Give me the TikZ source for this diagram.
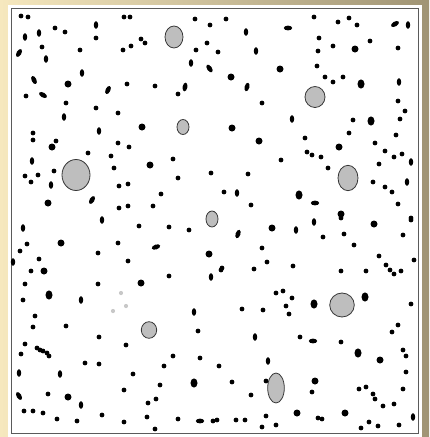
\documentclass[tikz,border=0pt]{standalone}
\usetikzlibrary{calc}
\definecolor{creamc}{RGB}{246,232,190}
\definecolor{goldc}{RGB}{228,196,120}
\definecolor{olivec}{RGB}{160,148,116}
\definecolor{framec}{RGB}{90,90,90}
\definecolor{cellc}{RGB}{190,190,190}
\definecolor{celledge}{RGB}{55,55,55}
\definecolor{faintc}{RGB}{200,200,200}
\tikzset{
  dotc/.style={fill=black},
  gcell/.style={fill=cellc,draw=celledge,line width=0.8pt},
  faint/.style={fill=faintc}
}
\newcommand\Sd[2]{\fill[dotc] (#1,#2) circle[radius=2.4];}
\newcommand\Bd[2]{\fill[dotc] (#1,#2) circle[radius=3.5];}
\newcommand\Vd[2]{\fill[dotc] (#1,#2) ellipse[x radius=2.2,y radius=3.8];}
\newcommand\Wd[2]{\fill[dotc] (#1,#2) ellipse[x radius=3.5,y radius=4.6];}
\newcommand\Hd[2]{\fill[dotc] (#1,#2) ellipse[x radius=4.2,y radius=2.4];}
\newcommand\Dd[3]{\fill[dotc,rotate around={#3:(#1,#2)}] (#1,#2) ellipse[x radius=4.4,y radius=2.4];}
\newcommand\Gd[4]{\filldraw[gcell] (#1,#2) ellipse[x radius=#3,y radius=#4];}
\newcommand\Fd[2]{\fill[faint] (#1,#2) circle[radius=2.1];}
\begin{document}
\begin{tikzpicture}[x=1pt,y=-1pt]
\useasboundingbox (0,0) rectangle (429,437);
% background frame
\shade[left color=creamc,middle color=goldc,right color=olivec] (0,0) rectangle (429,437);
\fill[white] (8,5) rectangle (422,437);
\draw[framec,line width=1.5pt] (11.5,8.5) rectangle (418.5,433.5);
% ---------- top-left ----------
\Sd{21}{16}\Sd{28}{17}\Vd{25}{37}\Vd{39}{33}\Sd{55}{28}\Sd{65}{32}
\Vd{96}{25}\Sd{96}{38}\Sd{124}{17}\Sd{130}{17}\Dd{19}{53}{60}
\Sd{42}{47}\Vd{46}{59}\Sd{80}{50}\Sd{123}{50}\Sd{131}{46}\Sd{141}{39}\Sd{145}{43}
\Sd{195}{19}\Sd{210}{25}\Sd{207}{43}\Sd{196}{50}\Vd{191}{63}\Dd{209.5}{68.5}{-55}
\Dd{34}{80}{-65}\Dd{43}{95}{-30}\Sd{26}{96}\Bd{68}{84}\Vd{82}{73}\Dd{108}{90}{65}
\Sd{127}{84}\Sd{155}{86}\Dd{185}{87}{80}\Sd{178}{94}\Sd{66}{103}\Vd{64}{117}
\Sd{96}{108}\Sd{118}{113}\Vd{99}{131}\Bd{142}{127}
\Sd{33}{133}\Sd{33}{140}\Bd{52}{147}\Sd{56}{141}\Sd{118}{143}\Sd{129}{147}
\Sd{88}{153}\Sd{111}{156}\Vd{32}{161}\Sd{114}{168}\Bd{150}{165}\Sd{173}{159}
\Sd{211}{173}\Sd{178}{178}\Sd{25}{176}\Sd{31}{182}\Sd{38}{175}\Sd{54}{171}
\Vd{51}{185}\Sd{119}{186}\Sd{128}{184}\Sd{161}{194}\Bd{48}{203}\Dd{92}{200}{60}
\Sd{119}{208}\Sd{128}{206}\Sd{153}{206}\Vd{102}{220}
% ---------- top-right ----------
\Sd{226}{19}\Vd{246}{32}\Hd{288}{28}\Sd{314}{17}\Sd{338}{22}\Sd{349}{18}\Sd{357}{25}
\Sd{370}{41}\Dd{395}{24}{30}\Vd{408}{25}\Sd{218}{52}\Vd{256}{51}\Sd{319}{38}
\Sd{318}{51}\Sd{333}{46}\Bd{355}{49}\Sd{398}{48}\Bd{280}{69}\Sd{317}{66}
\Bd{231}{77}\Dd{247}{87}{75}\Sd{325}{77}\Sd{333}{82}\Sd{343}{77}\Wd{361}{84}
\Vd{399}{82}\Sd{262}{103}\Sd{398}{101}\Sd{405}{111}\Vd{292}{119}\Sd{353}{120}
\Wd{371}{121}\Sd{400}{119}\Bd{232}{128}\Sd{349}{133}\Sd{396}{135}\Bd{259}{141}
\Sd{305}{138}\Bd{339}{147}\Sd{375}{143}\Sd{307}{152}\Sd{312}{155}\Sd{321}{157}
\Sd{385}{151}\Sd{394}{157}\Sd{402}{154}\Vd{411}{162}\Sd{281}{160}\Sd{328}{168}
\Sd{379}{164}\Sd{248}{174}\Sd{373}{182}\Sd{385}{187}\Sd{392}{192}
\Vd{407}{182}\Sd{224}{192}\Vd{237}{193}\Wd{299}{195}\Hd{315}{203}\Sd{251}{205}
\Sd{398}{204}\Bd{341}{214}\Sd{411}{218}
% ---------- bottom-left ----------
\Vd{23}{228}\Sd{139}{226}\Sd{169}{227}\Sd{189}{230}\Sd{27}{244}\Bd{61}{243}
\Sd{118}{243}\Dd{156}{247}{20}\Sd{20}{251}\Sd{98}{253}\Sd{39}{259}\Vd{13}{262}
\Sd{128}{261}\Bd{209}{254}\Bd{44}{271}\Sd{31}{271}\Sd{25}{284}\Sd{98}{284}
\Bd{141}{283}\Sd{169}{276}\Vd{211}{277}\Wd{49}{295}\Sd{23}{300}\Vd{81}{300}
\Fd{121}{293}\Fd{126}{306}\Fd{113}{311}
\Sd{35}{316}\Sd{33}{327}\Sd{66}{326}\Vd{194}{312}\Sd{198}{331}\Sd{99}{337}
\Sd{25}{344}\Sd{126}{345}\Sd{37}{348}\Sd{40}{350}\Sd{43}{351}\Sd{47}{353}\Sd{49}{356}
\Sd{21}{354}\Sd{85}{363}\Sd{99}{364}\Sd{173}{356}\Sd{164}{366}\Sd{200}{358}
\Vd{19}{373}\Vd{60}{374}\Sd{133}{374}\Wd{194}{383}\Sd{160}{385}\Sd{124}{390}
\Dd{19}{396}{-60}\Sd{48}{394}\Bd{68}{397}\Vd{81}{405}\Sd{156}{399}\Sd{148}{403}
\Sd{24}{411}\Sd{33}{411}\Sd{43}{413}\Sd{57}{419}\Sd{77}{421}\Sd{102}{415}
\Sd{124}{422}\Sd{147}{417}\Sd{178}{419}\Hd{200}{421}\Sd{213}{421}\Sd{155}{429}
\Sd{222}{268}
% ---------- bottom-right ----------
\Bd{272}{228}\Dd{238}{234}{70}\Vd{296}{230}\Vd{314}{222}\Sd{341}{218}\Bd{374}{224}
\Sd{411}{220}\Sd{323}{237}\Sd{344}{234}\Sd{403}{235}\Sd{262}{248}\Sd{354}{245}
\Sd{379}{256}\Sd{386}{265}\Sd{390}{270}\Sd{394}{274}\Sd{401}{271}\Sd{414}{260}
\Sd{221}{270}\Sd{254}{269}\Sd{267}{262}\Sd{293}{266}\Sd{341}{271}\Sd{366}{271}
\Sd{276}{293}\Sd{283}{291}\Sd{292}{298}\Sd{286}{306}\Sd{289}{314}\Sd{242}{309}
\Sd{263}{310}\Wd{314}{304}\Wd{365}{297}\Sd{411}{304}\Sd{398}{325}\Sd{392}{332}
\Vd{255}{337}\Sd{300}{337}\Hd{313}{341}\Sd{341}{342}\Wd{358}{353}\Sd{403}{350}
\Sd{406}{356}\Bd{380}{360}\Sd{219}{366}\Vd{268}{361}\Sd{406}{372}\Sd{232}{382}
\Sd{266}{381}\Bd{315}{381}\Sd{312}{392}\Sd{251}{395}\Sd{359}{389}\Sd{366}{387}
\Sd{373}{394}\Sd{375}{399}\Sd{383}{406}\Sd{394}{404}\Sd{403}{389}\Sd{217}{420}
\Sd{236}{420}\Sd{245}{420}\Sd{266}{416}\Sd{262}{427}\Sd{276}{425}\Bd{297}{413}
\Sd{318}{418}\Sd{322}{419}\Bd{345}{413}\Sd{361}{428}\Sd{369}{422}\Sd{378}{426}
\Sd{399}{425}\Vd{413}{417}
% ---------- grey cells ----------
\Gd{174}{37}{9}{11}
\Gd{183}{127}{6}{7.5}
\Gd{76}{175}{14}{15.5}
\Gd{212}{219}{6}{8}
\Gd{315}{97}{10}{10.5}
\Gd{348}{178}{10}{12.7}
\Gd{149}{330}{7.7}{8.3}
\Gd{342}{305}{12.3}{12}
\Gd{276}{388}{8.3}{15}
\end{tikzpicture}
\end{document}
